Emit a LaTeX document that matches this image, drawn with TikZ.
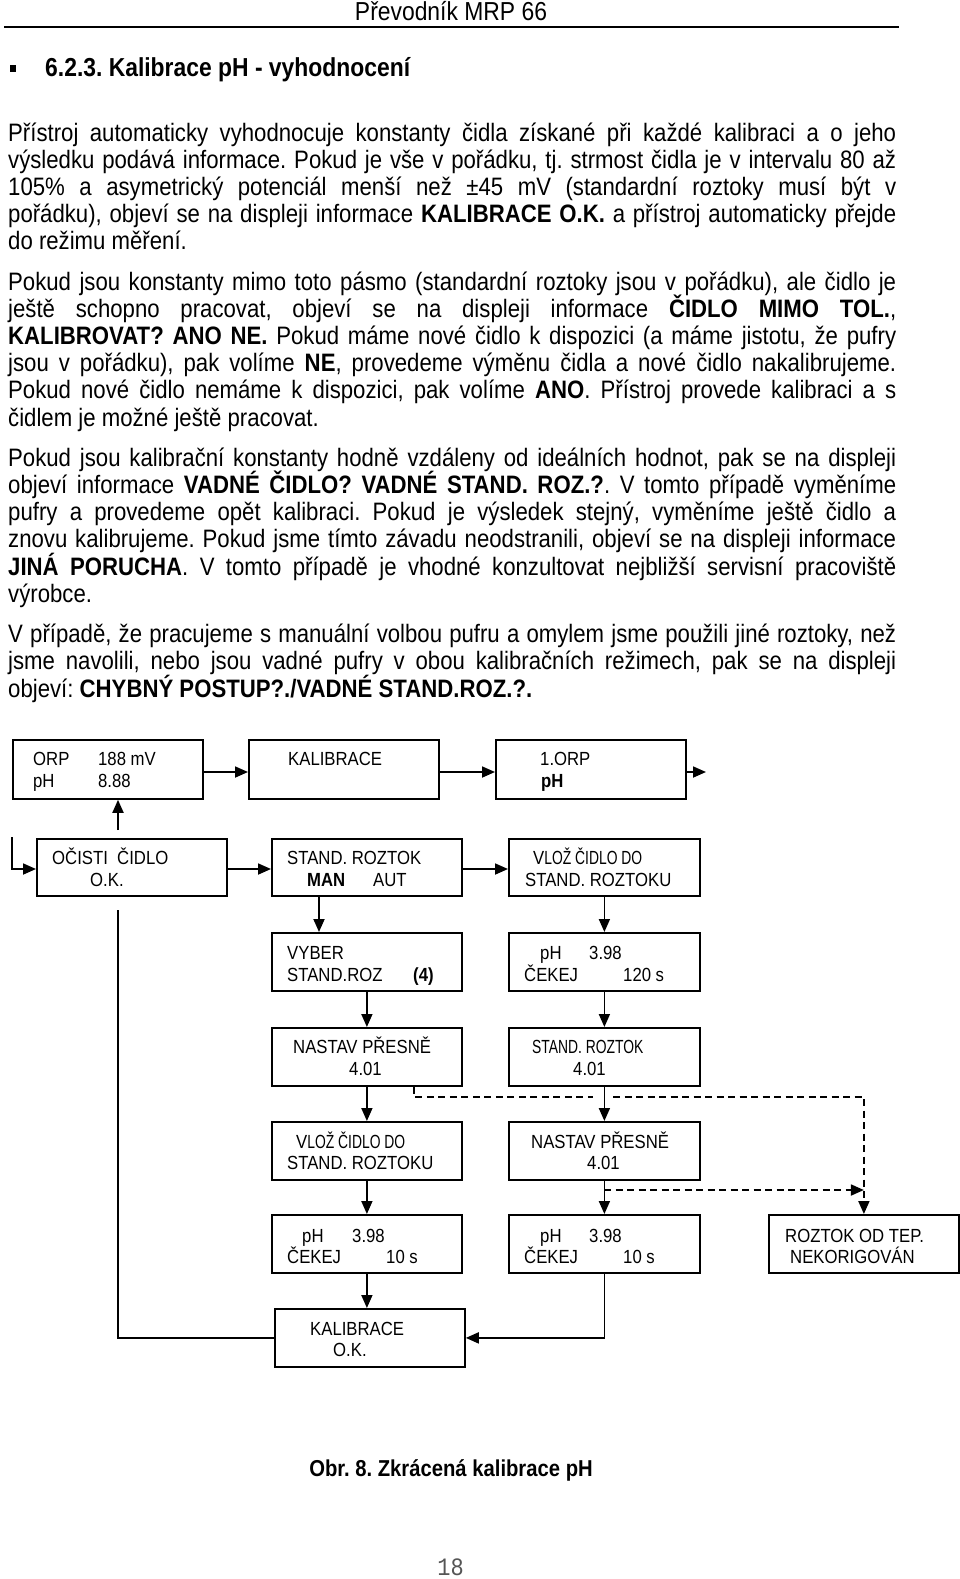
\documentclass[tikz,border=0pt]{standalone}
\usepackage{fontspec}
\setmainfont{Liberation Sans}[FakeStretch=0.88]
\newfontfamily\narrowfont{Liberation Sans}[FakeStretch=0.73]
\newfontfamily\pgfont{Liberation Mono}[FakeStretch=0.88]
\usetikzlibrary{arrows.meta}
\frenchspacing
\definecolor{pgray}{RGB}{85,85,85}
\newcommand\bt[4]{\node[lbl] (#1) at (#2,#3) {#4};}
\newcommand\jline[3]{\node[txt] (#1) at (8,#2) {\makebox[888pt][s]{#3}};}
\newcommand\lline[3]{\node[txt] (#1) at (8,#2) {#3};}
\tikzset{
 box/.style={draw, line width=1.8pt, inner sep=0pt, anchor=north west, minimum width=190pt, minimum height=58pt},
 lbl/.style={anchor=base west, inner sep=0pt, font=\fontsize{19pt}{21pt}\selectfont},
 txt/.style={anchor=base west, inner sep=0pt, font=\fontsize{25.2pt}{27pt}\selectfont\frenchspacing},
 arr/.style={line width=1.8pt, -{Triangle[length=13pt,width=11pt]}},
 con/.style={line width=1.8pt},
 dsh/.style={line width=1.8pt, dash pattern=on 7pt off 4.5pt},
 dsharr/.style={dsh, -{Triangle[length=13pt,width=11pt]}},
}
\begin{document}
\begin{tikzpicture}[x=1pt,y=-1pt]
\fill[white] (0,0) rectangle (960,1579);
\useasboundingbox (0,0) rectangle (960,1579);
% header
\node[anchor=base, inner sep=0pt, font=\fontsize{26pt}{28pt}\selectfont] (hdr) at (451,21) {Převodník MRP 66};
\draw[line width=1.5pt] (4,27) -- (899,27);
\node[fill=black, inner sep=0pt, minimum width=6pt, minimum height=7pt, anchor=north west] (bul) at (10,65) {};
\node[anchor=base west, inner sep=0pt, font=\fontsize{26pt}{28pt}\selectfont\bfseries] (title) at (45,77) {6.2.3. Kalibrace pH - vyhodnocení};
% body
\jline{l1}{141}{Přístroj automaticky vyhodnocuje konstanty čidla získané při každé kalibraci a o jeho}
\jline{l2}{168.2}{výsledku podává informace. Pokud je vše v pořádku, tj. strmost čidla je v intervalu 80 až}
\jline{l3}{195.4}{105\% a asymetrický potenciál menší než ±45 mV (standardní roztoky musí být v}
\jline{l4}{222.6}{pořádku), objeví se na displeji informace \textbf{KALIBRACE O.K.} a přístroj automaticky přejde}
\lline{l5}{249.8}{do režimu měření.}
\jline{l6}{290}{Pokud jsou konstanty mimo toto pásmo (standardní roztoky jsou v pořádku), ale čidlo je}
\jline{l7}{317.2}{ještě schopno pracovat, objeví se na displeji informace \textbf{ČIDLO MIMO TOL.},}
\jline{l8}{344.4}{\textbf{KALIBROVAT? ANO NE.} Pokud máme nové čidlo k dispozici (a máme jistotu, že pufry}
\jline{l9}{371.6}{jsou v pořádku), pak volíme \textbf{NE}, provedeme výměnu čidla a nové čidlo nakalibrujeme.}
\jline{l10}{398.8}{Pokud nové čidlo nemáme k dispozici, pak volíme \textbf{ANO}. Přístroj provede kalibraci a s}
\lline{l11}{426}{čidlem je možné ještě pracovat.}
\jline{l12}{466.3}{Pokud jsou kalibrační konstanty hodně vzdáleny od ideálních hodnot, pak se na displeji}
\jline{l13}{493.5}{objeví informace \textbf{VADNÉ ČIDLO? VADNÉ STAND. ROZ.?}. V tomto případě vyměníme}
\jline{l14}{520.7}{pufry a provedeme opět kalibraci. Pokud je výsledek stejný, vyměníme ještě čidlo a}
\jline{l15}{547.9}{znovu kalibrujeme. Pokud jsme tímto závadu neodstranili, objeví se na displeji informace}
\jline{l16}{575.1}{\textbf{JINÁ PORUCHA}. V tomto případě je vhodné konzultovat nejbližší servisní pracoviště}
\lline{l17}{602.3}{výrobce.}
\jline{l18}{642.6}{V případě, že pracujeme s manuální volbou pufru a omylem jsme použili jiné roztoky, než}
\jline{l19}{669.8}{jsme navolili, nebo jsou vadné pufry v obou kalibračních režimech, pak se na displeji}
\lline{l20}{697}{objeví: \textbf{CHYBNÝ POSTUP?./VADNÉ STAND.ROZ.?.}}
% boxes
\node[box, minimum height=59pt] (orp) at (12,739) {};
\node[box, minimum height=59pt] (kal) at (248,739) {};
\node[box, minimum height=59pt] (orp1) at (495,739) {};
\node[box, minimum height=57pt] (ocisti) at (36,838) {};
\node[box, minimum height=57pt] (stand) at (271,838) {};
\node[box, minimum height=57pt, minimum width=191pt] (vloz1) at (508,838) {};
\node[box] (vyber) at (271,932) {};
\node[box, minimum width=191pt] (ph120) at (508,932) {};
\node[box] (nastav1) at (271,1027) {};
\node[box, minimum width=191pt] (stand401) at (508,1027) {};
\node[box] (vloz2) at (271,1121) {};
\node[box, minimum width=191pt] (nastav2) at (508,1121) {};
\node[box] (ph10a) at (271,1214) {};
\node[box, minimum width=191pt] (ph10b) at (508,1214) {};
\node[box] (roztok) at (768,1214) {};
\node[box] (kalok) at (274,1308) {};
% box labels
\bt{a1}{33}{765.5}{ORP}
\bt{a2}{98}{765.5}{188 mV}
\bt{a3}{33}{787}{pH}
\bt{a4}{98}{787}{8.88}
\bt{b1}{288}{765.5}{KALIBRACE}
\bt{c1}{540}{765.5}{1.ORP}
\bt{c2}{541}{787}{\textbf{pH}}
\bt{d1}{52}{864.5}{OČISTI\ \ ČIDLO}
\bt{d2}{90}{886}{O.K.}
\bt{e1}{287}{864.5}{STAND. ROZTOK}
\bt{e2}{307}{886}{\textbf{MAN}}
\bt{e3}{373}{886}{AUT}
\bt{f1}{533}{864.5}{V{\narrowfont LOŽ ČIDLO DO}}
\bt{f2}{525}{886}{STAND. ROZTOKU}
\bt{g1}{287}{959.5}{VYBER}
\bt{g2}{287}{981}{STAND.ROZ}
\bt{g3}{413}{981}{\textbf{(4)}}
\bt{h1}{540}{959.5}{pH}
\bt{h2}{589}{959.5}{3.98}
\bt{h3}{524}{981}{ČEKEJ}
\bt{h4}{623}{981}{120 s}
\bt{i1}{293}{1053.5}{NASTAV PŘESNĚ}
\bt{i2}{349}{1075}{4.01}
\bt{j1}{532}{1053.5}{{\narrowfont STAND. ROZTOK}}
\bt{j2}{573}{1075}{4.01}
\bt{k1}{296}{1148}{V{\narrowfont LOŽ ČIDLO DO}}
\bt{k2}{287}{1169.5}{STAND. ROZTOKU}
\bt{m1}{531}{1148}{NASTAV PŘESNĚ}
\bt{m2}{587}{1169.5}{4.01}
\bt{n1}{302}{1242}{pH}
\bt{n2}{352}{1242}{3.98}
\bt{n3}{287}{1263.5}{ČEKEJ}
\bt{n4}{386}{1263.5}{10 s}
\bt{o1}{540}{1242}{pH}
\bt{o2}{589}{1242}{3.98}
\bt{o3}{524}{1263.5}{ČEKEJ}
\bt{o4}{623}{1263.5}{10 s}
\bt{p1}{785}{1242}{ROZTOK OD TEP.}
\bt{p2}{790}{1263.5}{NEKORIGOVÁN}
\bt{q1}{310}{1335}{KALIBRACE}
\bt{q2}{333}{1356.5}{O.K.}
% coordinates
\coordinate (r1) at (0,772);
\coordinate (r2) at (0,869);
\coordinate (oe) at (706,772);
\coordinate (lp) at (12,837);
\coordinate (u1) at (118,830);
\coordinate (u2) at (118,910);
\coordinate (v319) at (319,0);
\coordinate (d414) at (414,0);
\coordinate (gl) at (593,1097);
\coordinate (gr) at (613,1097);
\coordinate (ds) at (604,1190);
% connectors
\draw[arr] (orp.east |- r1) -- (kal.west |- r1);
\draw[arr] (kal.east |- r1) -- (orp1.west |- r1);
\draw[arr] (orp1.east |- r1) -- (oe);
\draw[arr] (lp) |- (ocisti.west |- r2);
\draw[arr] (u1) -- (orp.south -| u1);
\draw[arr] (ocisti.east |- r2) -- (stand.west |- r2);
\draw[arr] (stand.east |- r2) -- (vloz1.west |- r2);
\draw[arr] (stand.south -| v319) -- (vyber.north -| v319);
\draw[arr] (vyber.south) -- (nastav1.north);
\draw[arr] (nastav1.south) -- (vloz2.north);
\draw[arr] (vloz2.south) -- (ph10a.north);
\draw[arr] (ph10a.south) -- (kalok.north -| ph10a.south);
\draw[arr] (vloz1.south) -- (ph120.north);
\draw[arr] (ph120.south) -- (stand401.north);
\draw[arr] (stand401.south) -- (nastav2.north);
\draw[arr] (nastav2.south) -- (ph10b.north);
\draw[arr] (ph10b.south) |- (kalok.east);
\draw[con] (kalok.west) -| (u2);
\draw[dsh] (nastav1.south -| d414) |- (gl);
\draw[dsharr] (gr) -| (roztok.north);
\draw[dsharr] (ds) -- (ds -| roztok.north);
% caption and page number
\node[anchor=base, inner sep=0pt, font=\fontsize{23pt}{25pt}\selectfont\bfseries] (cap) at (451,1476) {Obr. 8. Zkrácená kalibrace pH};
\node[anchor=base, inner sep=0pt, text=pgray, font=\fontsize{25pt}{27pt}\selectfont\pgfont] (pgno) at (450.5,1575) {18};
\end{tikzpicture}
\end{document}
